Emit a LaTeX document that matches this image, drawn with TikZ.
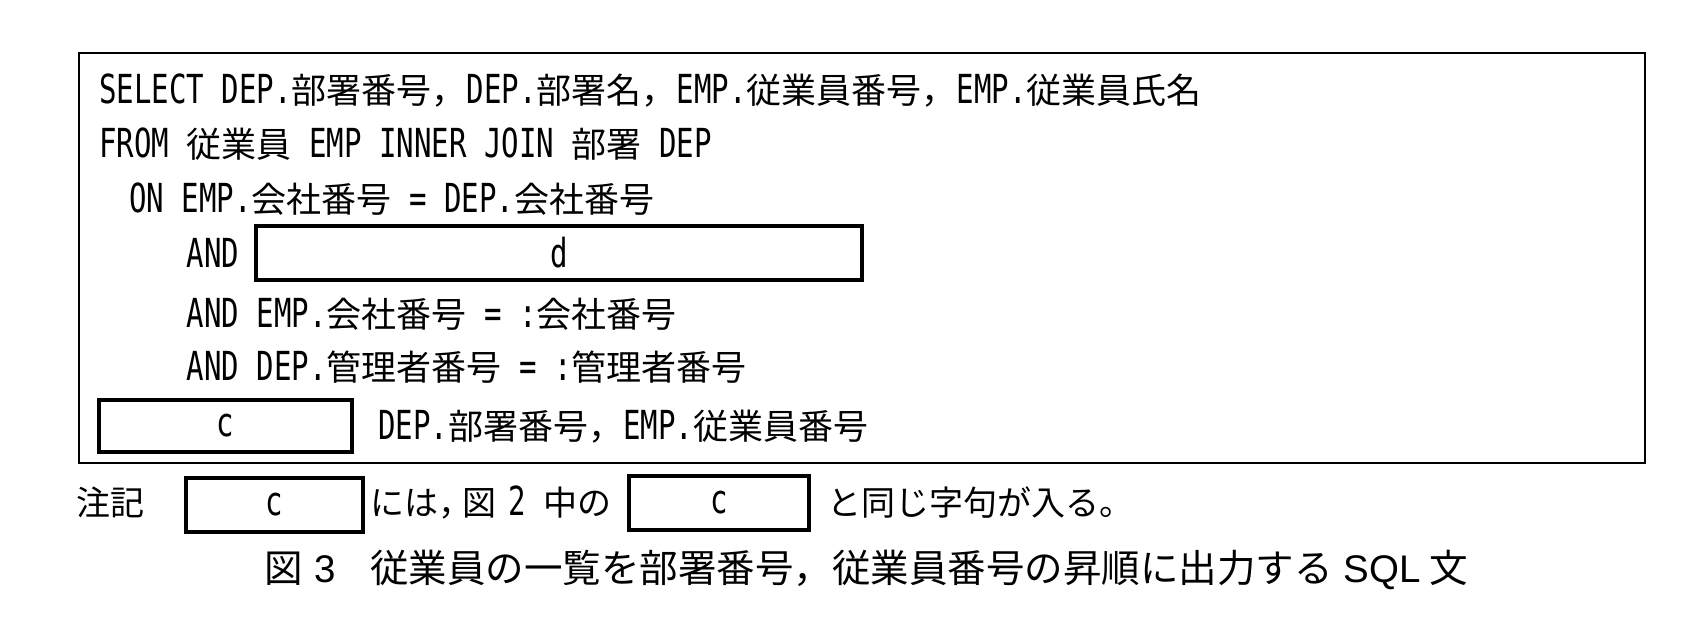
\documentclass[tikz,border=0pt]{standalone}
\usepackage{fontspec}
\newfontfamily\jpfont[Kerning=Off]{Noto Sans CJK JP}
\newfontfamily\ltfont[FakeStretch=0.727]{DejaVu Sans Mono}
\newfontfamily\capfont{Liberation Sans}
\newcommand\latn[1]{{\ltfont\fontsize{40pt}{44pt}\selectfont #1}}
\tikzset{
  codeline/.style={anchor=base west, inner sep=0pt, font=\jpfont\fontsize{35pt}{42pt}\selectfont},
  noteline/.style={anchor=base west, inner sep=0pt, font=\jpfont\fontsize{34pt}{40pt}\selectfont},
  capline/.style={anchor=base west, inner sep=0pt, font=\jpfont\fontsize{38.5pt}{44pt}\selectfont},
  blank/.style={draw, line width=4pt, inner sep=0pt, font=\jpfont\fontsize{35pt}{42pt}\selectfont},
}
\begin{document}
\begin{tikzpicture}[x=1pt,y=-1pt]
\useasboundingbox (0,0) rectangle (1688,626);
\node[draw, line width=2.8pt, minimum width=1566pt, minimum height=410pt, inner sep=0pt] (frame) at (862,258) {};
\node[codeline] (l1) at (99,103) {\latn{SELECT DEP.}部署番号，\latn{DEP.}部署名，\latn{EMP.}従業員番号，\latn{EMP.}従業員氏名};
\node[codeline] (l2) at (99,157) {\latn{FROM }従業員\latn{ EMP INNER JOIN }部署\latn{ DEP}};
\node[codeline] (l3) at (129,212) {\latn{ON EMP.}会社番号\latn{ = DEP.}会社番号};
\node[codeline] (l4) at (186.5,267) {\latn{AND}};
\node[blank, minimum width=606pt, minimum height=54pt] (d) at (559,253) {\latn{d}};
\node[codeline] (l5) at (186.5,327) {\latn{AND EMP.}会社番号\latn{ = :}会社番号};
\node[codeline] (l6) at (186.5,380) {\latn{AND DEP.}管理者番号\latn{ = :}管理者番号};
\node[blank, minimum width=253pt, minimum height=52pt] (c1) at (225.5,426) {\latn{c}};
\node[codeline] (l7) at (378,439) {\latn{DEP.}部署番号，\latn{EMP.}従業員番号};
\node[noteline] (n1) at (76,515) {注記};
\node[blank, minimum width=177pt, minimum height=54pt] (c2) at (274.5,505) {\latn{c}};
\node[noteline] (n2) at (370,515) {には，};
\node[noteline] (n3) at (462,515) {図};
\node[noteline] (n4) at (508,515) {\latn{2}};
\node[noteline] (n5) at (543,515) {中の};
\node[blank, minimum width=180pt, minimum height=54pt] (c3) at (719,503) {\latn{c}};
\node[noteline] (n6) at (827,515) {と同じ字句が入る。};
\node[capline] (cap) at (264,582) {図\hspace{12pt}{\capfont 3}\hspace{34pt}従業員の一覧を部署番号，従業員番号の昇順に出力する\hspace{11pt}{\capfont SQL}\hspace{9pt}文};
\end{tikzpicture}
\end{document}
